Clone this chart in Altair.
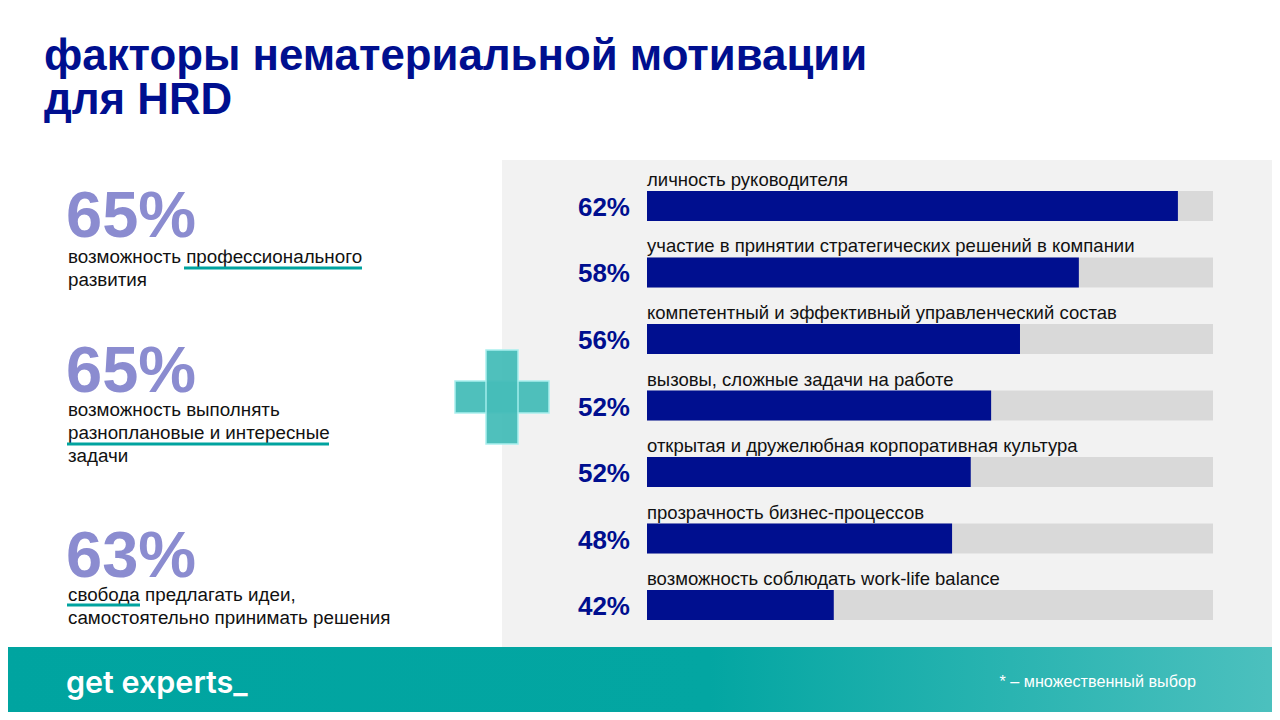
import altair as alt
import pandas as pd

# ---------------- data ----------------
factors = [
    "личность руководителя",
    "участие в принятии  стратегических решений в компании",
    "компетентный и эффективный управленческий состав",
    "вызовы, сложные задачи на работе",
    "открытая и дружелюбная корпоративная культура",
    "прозрачность бизнес-процессов",
    "возможность соблюдать work-life balance",
]
shares = [62, 58, 56, 52, 52, 48, 42]
# filled share of each grey track, as drawn on the slide
bar_fill = [0.938, 0.763, 0.659, 0.608, 0.572, 0.539, 0.330]

top_values = ["65%", "65%", "63%"]
top_texts = [
    ["возможность профессионального", "развития"],
    ["возможность выполнять", "разноплановые и интересные", "задачи"],
    ["свобода предлагать идеи,", "самостоятельно принимать решения"],
]
title_lines = ["факторы нематериальной мотивации", "для HRD"]
footnote = "* – множественный выбор"
logo = "get experts_"

# ---------------- styles ----------------
NAVY = "#000F8F"
LAVENDER = "#8B8CD0"
TEAL = "#00A39F"
GREY_PANEL = "#F2F2F2"
GREY_TRACK = "#D9D9D9"
FONT = "Liberation Sans"

OX, OY = 8, 8  # page margin offset


def X(v):
    return v - OX


def Y(v):
    return v - OY


one = alt.Data(values=[{"a": 1}])


def rect(x1, x2, y1, y2, **kw):
    return alt.Chart(one).mark_rect(**kw).encode(
        x=alt.value(X(x1)), x2=alt.value(X(x2)), y=alt.value(Y(y1)), y2=alt.value(Y(y2))
    )


def text(t, x, y, **kw):
    kw.setdefault("font", FONT)
    return alt.Chart(one).mark_text(text=t, **kw).encode(
        x=alt.value(X(x)), y=alt.value(Y(y))
    )


def hline(x1, x2, y, color=TEAL, w=3):
    return alt.Chart(one).mark_rule(color=color, strokeWidth=w).encode(
        x=alt.value(X(x1)), x2=alt.value(X(x2)), y=alt.value(Y(y))
    )


layers = []

# background panels
layers.append(rect(502, 1290, 160, 647, color=GREY_PANEL))
footer_grad = alt.Gradient(
    gradient="linear",
    stops=[
        alt.GradientStop(offset=0, color="#00A4A0"),
        alt.GradientStop(offset=0.55, color="#03A6A2"),
        alt.GradientStop(offset=1, color="#4EC1BF"),
    ],
    x1=0, x2=1, y1=0, y2=0,
)
layers.append(rect(0, 1290, 647, 730, fill=footer_grad))

# title
layers.append(text(title_lines, 44, 70, fontSize=43.8, fontWeight="bold", color=NAVY,
                   align="left", baseline="alphabetic", lineHeight=44))

# left statistics
stat_base = [237, 392, 577]
desc_base = [263, 416, 601]
for val, lines, sb, db in zip(top_values, top_texts, stat_base, desc_base):
    layers.append(text(val, 66, sb, fontSize=65, fontWeight="bold", color=LAVENDER,
                       align="left", baseline="alphabetic"))
    layers.append(text(lines, 68, db, fontSize=18.8, color="#111111",
                       align="left", baseline="alphabetic", lineHeight=23))
layers.append(hline(184, 362, 268))
layers.append(hline(67, 329, 444))
layers.append(hline(67, 140, 605))

# plus sign
PLUS_FILL = "#46BDB9"
PLUS_EDGE = "#A6F0EE"
layers.append(rect(455, 549, 381, 413, fill=PLUS_FILL, stroke=PLUS_EDGE, strokeWidth=1.5, opacity=0.95))
layers.append(rect(486, 518, 350, 444, fill=PLUS_FILL, stroke=PLUS_EDGE, strokeWidth=1.5, opacity=0.95))
layers.append(rect(487.5, 516.5, 382.5, 411.5, fill=PLUS_FILL, opacity=1))

# bar chart
df = pd.DataFrame({
    "factor": factors,
    "share": shares,
    "fill": bar_fill,
})
df["start"] = 0.0
df["track"] = 1.0
df["label"] = [f"{s}%" for s in shares]

xs = alt.Scale(domain=[0, 1], range=[X(647), X(1213)], nice=False, zero=False)
ys = alt.Scale(domain=factors, range=[Y(191), Y(620)], paddingInner=0.55, paddingOuter=0)

base = alt.Chart(df)
yenc = alt.Y("factor:N", scale=ys, axis=None, sort=factors)

layers.append(base.mark_bar(color=GREY_TRACK, cornerRadius=0).encode(
    x=alt.X("start:Q", scale=xs, axis=None), x2="track:Q", y=yenc))
layers.append(base.mark_bar(color=NAVY, cornerRadius=0).encode(
    x=alt.X("start:Q", scale=xs, axis=None), x2="fill:Q", y=yenc))
layers.append(base.mark_text(align="left", baseline="alphabetic", dy=-20, fontSize=18.5,
                             font=FONT, color="#111111").encode(
    x=alt.X("start:Q", scale=xs, axis=None), y=yenc, text="factor:N"))
layers.append(base.mark_text(align="right", baseline="middle", dx=-17, dy=2, fontSize=26,
                             fontWeight="bold", font=FONT, color=NAVY).encode(
    x=alt.X("start:Q", scale=xs, axis=None), y=yenc, text="label:N"))

# footer texts
layers.append(text(logo, 66, 693, fontSize=30.5, fontWeight=600, font="Inter", color="white",
                   align="left", baseline="alphabetic"))
layers.append(text(footnote, 1196, 687, fontSize=16.2, color="white",
                   align="right", baseline="alphabetic"))

chart = alt.layer(*layers).properties(
    width=1264, height=704, padding=0, autosize=alt.AutoSizeParams(type="none"),
    background="white",
).configure_view(stroke=None)

chart.save("out.html", embed_options={"renderer": "svg", "actions": False})
